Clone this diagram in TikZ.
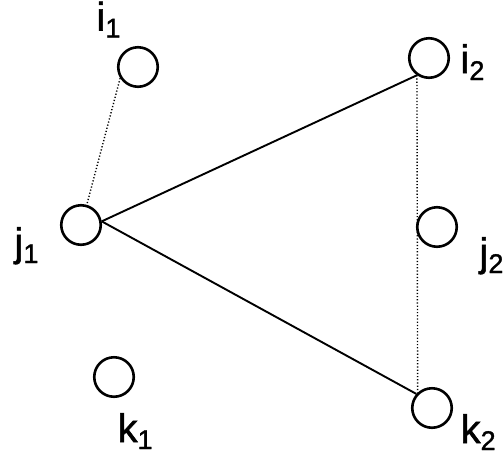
\documentclass[tikz,border=0pt]{standalone}
\usepackage{fontspec}
\setmainfont{Liberation Sans}
\newfontfamily\lblfont{Liberation Sans}[FakeBold=1.3]
\newcommand\lbl[2]{\lblfont\fontsize{40}{40}\selectfont #1\raisebox{-7pt}{\fontsize{27}{27}\selectfont #2}}
\begin{document}
\begin{tikzpicture}[x=1pt,y=-1pt,
  vtx/.style={circle,draw,line width=2.6pt,minimum size=39.5pt,inner sep=0pt},
  lab/.style={anchor=base west,inner sep=0pt,text height=29pt,text depth=9pt},
  solidedge/.style={line width=1.9pt},
  dotedge/.style={line width=1.4pt,dash pattern=on 1.2pt off 2pt}]
\useasboundingbox (0,0) rectangle (504,456);
\node[vtx] (i1) at (138,67) {};
\node[vtx] (i2) at (429,58) {};
\node[vtx] (j1) at (81,225) {};
\node[vtx] (j2) at (437,227) {};
\node[vtx] (k1) at (114,377) {};
\node[vtx] (k2) at (432,408) {};
\node[lab] (li1) at (96.3,30.5) {\lbl{i}{1}};
\node[lab] (li2) at (460.3,73) {\lbl{i}{2}};
\node[lab] (lj1) at (14.3,256) {\lbl{j}{1}};
\node[lab] (lj2) at (479.3,266) {\lbl{j}{2}};
\node[lab] (lk1) at (117.4,442) {\lbl{k}{1}};
\node[lab] (lk2) at (460.4,443) {\lbl{k}{2}};
\draw[dotedge] (i1.212) -- (j1.74);
\draw[solidedge] (j1.10) -- (i2.235);
\draw[solidedge] (j1.10) -- (k2.138);
\draw[dotedge] (i2.235) -- (k2.133);
\end{tikzpicture}
\end{document}
